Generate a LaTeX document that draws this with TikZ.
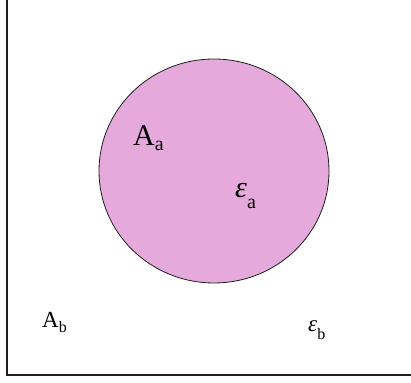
\documentclass[tikz,border=0pt]{standalone}
\usepackage{fontspec}
\setmainfont{Liberation Serif}
\usepackage{tikz}
\usetikzlibrary{positioning}
\definecolor{Orchid}{RGB}{229,170,219}
\definecolor{EdgeGray}{RGB}{30,30,30}
% symbol with lowered subscript: size, symbol, sub size, drop, subscript
\newcommand{\withsub}[5]{{\fontsize{#1}{#1}\selectfont #2}\raisebox{-#4pt}{\fontsize{#3}{#3}\selectfont #5}}

\begin{document}
\begin{tikzpicture}[x=1pt, y=1pt, lbl/.style={inner sep=0pt, anchor=base west}]
	\useasboundingbox (0,0) rectangle (411,382);
	
	% frame (left and bottom edges only)
	\coordinate (top) at (7,382);
	\coordinate (corner) at (7,7.5);
	\coordinate (right) at (411,7.5);
	\draw[line width=2pt, draw=EdgeGray] (top) -- (corner) -- (right);
	
	% region a
	\coordinate (C) at (214,211);
	\draw[fill=Orchid, draw=EdgeGray, line width=0.8pt] (C) ellipse [x radius=115, y radius=112];
	
	% labels
	\node[lbl] (Aa) at (133,236) {\withsub{30}{A}{20}{5}{a}};
	\node[lbl] (Ea) at (235,184) {\withsub{30}{\textit{ε}}{20}{11}{a}};
	\node[lbl] (Ab) at (42,55) {\withsub{23}{A}{16}{6}{b}};
	\node[lbl] (Eb) at (308,50) {\withsub{23}{\textit{ε}}{16}{8}{b}};
	
\end{tikzpicture}
\end{document}
